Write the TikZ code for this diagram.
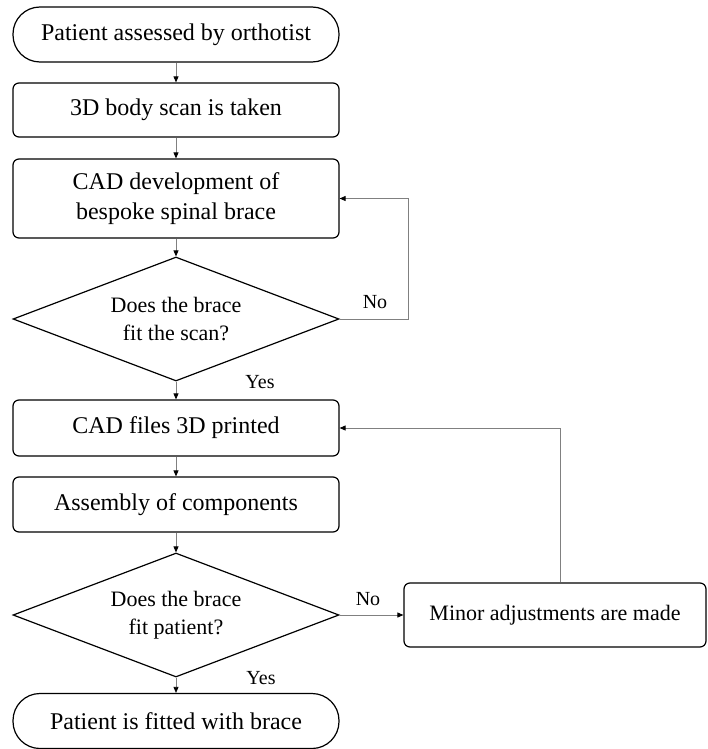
\documentclass[tikz,border=0pt]{standalone}
\usepackage{fontspec}
\setmainfont{Liberation Serif}
\usetikzlibrary{shapes.geometric,arrows.meta}

\begin{document}
\begin{tikzpicture}[x=1pt,y=-1pt,
        stepbox/.style={draw=black, line width=1.2pt, rounded corners=6pt, minimum width=326pt, align=center, font=\fontsize{24}{30}\selectfont},
        termbox/.style={draw=black, line width=1.2pt, rounded corners=27pt, minimum width=326pt, minimum height=55pt, font=\fontsize{24}{30}\selectfont},
        decision/.style={draw=black, line width=1.2pt, diamond, aspect=2.63, minimum width=326pt, minimum height=124pt, inner sep=0pt, align=center, font=\fontsize{22}{28}\selectfont},
        link/.style={draw=gray, line width=0.8pt, -{Triangle[length=6pt,width=5pt,color=black]}},
        lbl/.style={font=\fontsize{20}{24}\selectfont}]
    \useasboundingbox (0,0) rectangle (708,749);
    % Main column
    \node[termbox] (start) at (176,34.5) {Patient assessed by orthotist};
    \node[stepbox, minimum height=54pt] (scan) at (176,110) {3D body scan is taken};
    \node[stepbox, minimum height=79pt] (cad) at (176,198.5) {CAD development of\\bespoke spinal brace};
    \node[decision] (fit1) at (176,319) {Does the brace\\fit the scan?};
    \node[stepbox, minimum height=56pt] (print) at (176,428) {CAD files 3D printed};
    \node[stepbox, minimum height=55pt] (assembly) at (176,504.5) {Assembly of components};
    \node[decision] (fit2) at (176,615) {Does the brace\\fit patient?};
    \node[termbox] (finish) at (176,721) {Patient is fitted with brace};
    % Side box
    \node[stepbox, minimum width=302pt, minimum height=64pt, font=\fontsize{22}{28}\selectfont] (minor) at (555,615) {Minor adjustments are made};
    % Connectors
    \draw[link] (start) -- (scan);
    \draw[link] (scan) -- (cad);
    \draw[link] (cad) -- (fit1);
    \draw[link] (fit1) -- (print);
    \draw[link] (print) -- (assembly);
    \draw[link] (assembly) -- (fit2);
    \draw[link] (fit2) -- (finish);
    \draw[link] (fit1.east) -- ++(69,0) |- (cad.east);
    \draw[link] (fit2) -- (minor);
    \draw[link] ([xshift=5pt]minor.north) |- (print.east);
    % Labels
    \node[lbl] (no1) at (375,302) {No};
    \node[lbl] (yes1) at (260,382) {Yes};
    \node[lbl] (no2) at (368,599) {No};
    \node[lbl] (yes2) at (261,678) {Yes};
\end{tikzpicture}
\end{document}
